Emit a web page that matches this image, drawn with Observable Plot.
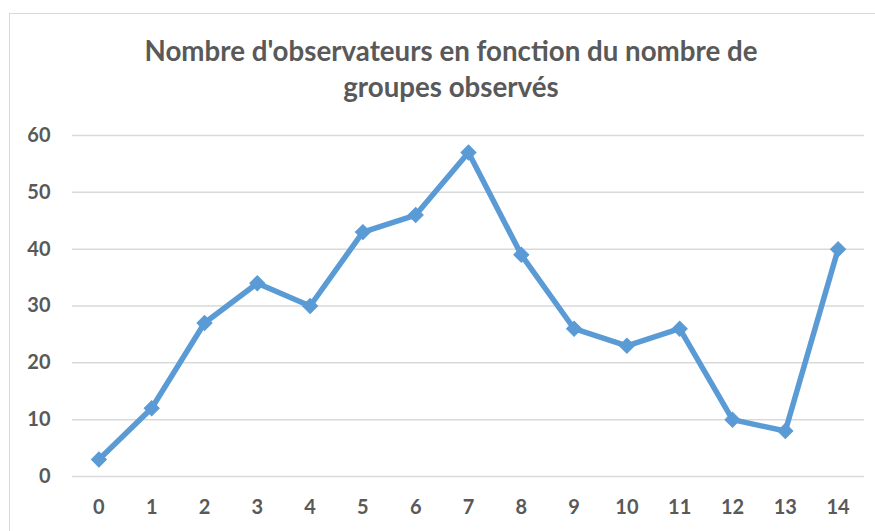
<!DOCTYPE html>
<html>
<head>
<meta charset="utf-8">
<script src="https://cdn.jsdelivr.net/npm/d3@7"></script>
<script src="https://cdn.jsdelivr.net/npm/@observablehq/plot@0.6"></script>
<style>
  html, body { margin: 0; padding: 0; background: #fff; width: 875px; height: 531px; overflow: hidden; }
  #wrap { position: relative; width: 875px; height: 531px; }
  #frame { position: absolute; left: 9px; top: 13px; width: 900px; height: 600px; border: 1.5px solid #d9d9d9; box-sizing: border-box; }
  #title { position: absolute; left: 0; width: 902px; top: 33px; text-align: center; font-family: Lato, "Open Sans", sans-serif; font-weight: bold; font-size: 27.7px; line-height: 36px; color: #595959; }
  #chart { position: absolute; left: 0; top: 0; }
</style>
</head>
<body>
<div id="wrap">
  <div id="frame"></div>
  <div id="chart"></div>
  <div id="title">Nombre d'observateurs en fonction du nombre de<br>groupes observés</div>
</div>
<script>
const groups = [0,1,2,3,4,5,6,7,8,9,10,11,12,13,14];
const observers = [3,12,27,34,30,43,46,57,39,26,23,26,10,8,40];
const yTicks = [0,10,20,30,40,50,60];
const title = "Nombre d'observateurs en fonction du nombre de groupes observés";

const data = groups.map((g, i) => ({g, v: observers[i]}));
const font = "Lato, 'Open Sans', sans-serif";

const chart = Plot.plot({
  width: 875,
  height: 531,
  marginLeft: 72,
  marginRight: 11,
  marginTop: 135,
  marginBottom: 55,
  style: {fontFamily: font, fontSize: "20px", fontWeight: "bold", color: "#595959", background: "transparent"},
  x: {type: "point", domain: groups, padding: 0.5, round: false},
  y: {domain: [0, 60]},
  marks: [
    Plot.gridY(yTicks, {stroke: "#d9d9d9", strokeOpacity: 1, strokeWidth: 1.5}),
    Plot.axisY(yTicks, {tickSize: 0, tickPadding: 22, label: null, fill: "#595959"}),
    Plot.axisX(groups, {tickSize: 0, tickPadding: 23, label: null, fill: "#595959"}),
    Plot.line(data, {x: "g", y: "v", stroke: "#5b9bd5", strokeWidth: 5.5, strokeLinejoin: "round"}),
    Plot.dot(data, {x: "g", y: "v", symbol: "square", rotate: 45, r: 6, fill: "#5b9bd5", stroke: "#5b9bd5", strokeWidth: 1})
  ]
});
document.getElementById("chart").appendChild(chart);
</script>
</body>
</html>
